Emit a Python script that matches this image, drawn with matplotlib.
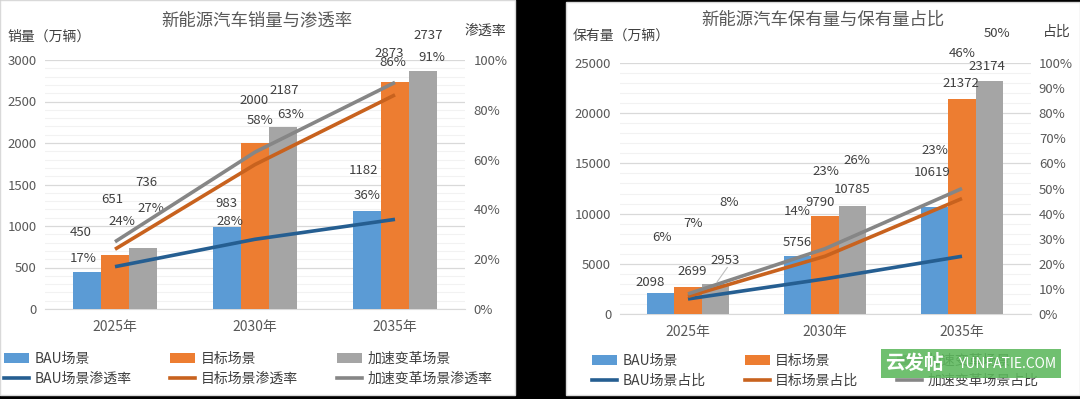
import numpy as np
import matplotlib
matplotlib.use('Agg')
import matplotlib.pyplot as plt
from matplotlib.patches import Rectangle, Patch
from matplotlib.lines import Line2D

plt.rcParams['font.family'] = ['Noto Sans CJK SC', 'DejaVu Sans']

# data
years = ['2025年', '2030年', '2035年']
scenarios = ['BAU场景', '目标场景', '加速变革场景']

sales = [[450, 983, 1182], [651, 2000, 2737], [736, 2187, 2873]]
penetration = [[0.17, 0.28, 0.36], [0.24, 0.58, 0.86], [0.27, 0.63, 0.91]]

stock = [[2098, 5756, 10619], [2699, 9790, 21372], [2953, 10785, 23174]]
stock_share = [[0.06, 0.14, 0.23], [0.07, 0.23, 0.46], [0.08, 0.26, 0.50]]

# label offsets in pixels (dx, dy) as placed in the source picture
sales_off = [[(-6, 39), (-1, 24), (-3, 40)], [(-3, 55), (-1, 42), (33, 46)], [(3, 65), (1, 37), (-34, 17)]]
pen_off = [[(-32, 8), (-25, 18), (-28, 24)], [(7, 28), (5, 44), (-2, 32)], [(36, 33), (36, 38), (37, 25)]]
stock_off = [[(-10, 10), (0, 14), (-2, 35)], [(4, 15), (-5, 13), (-1, 16)], [(10, 24), (0, 16), (-2, 15)]]
share_off = [[(-26, 61), (-28, 67), (-27, 106)], [(5, 73), (1, 85), (0, 145)], [(41, 91), (32, 88), (35, 155)]]

bar_colors = ['#5B9BD5', '#ED7D31', '#A5A5A5']
line_colors = ['#255E91', '#C8621E', '#868686']
TXT = '#404040'
TICK = '#595959'

W, H = 1080, 399


def fx(px):
    return px / W


def fy(py):
    return 1 - py / H


fig = plt.figure(figsize=(W / 100, H / 100), dpi=100, facecolor='black')

# white panels (behind the axes)
fig.patches.append(Rectangle((fx(0), fy(395)), fx(515), 395 / H, transform=fig.transFigure,
                             facecolor='white', edgecolor='#d9d9d9', lw=1, zorder=-5))
fig.patches.append(Rectangle((fx(566), fy(395)), fx(514), 393 / H, transform=fig.transFigure,
                             facecolor='white', edgecolor='#d9d9d9', lw=1, zorder=-5))


def draw_panel(px0, px1, py_top, py_bot, bars, shares, b_off, s_off, ymax, ystep, ystep_minor, rstep):
    ax = fig.add_axes([fx(px0), fy(py_bot), (px1 - px0) / W, (py_bot - py_top) / H])
    ax.set_facecolor('none')
    x = np.arange(len(years))
    for i in range(3):
        ax.bar(x + (i - 1) * 0.2, bars[i], width=0.2, color=bar_colors[i], zorder=3)
    ax.set_xlim(-0.5, 2.5)
    ax.set_ylim(0, ymax)
    ax.set_yticks(np.arange(0, ymax + 1, ystep))
    ax.set_yticks(np.arange(0, ymax + 1, ystep_minor), minor=True)
    ax.grid(which='major', axis='y', color='#d9d9d9', lw=0.9, zorder=0)
    ax.grid(which='minor', axis='y', color='#f2f2f2', lw=0.8, zorder=0)
    ax.set_axisbelow(True)
    ax.set_xticks(x)
    ax.set_xticklabels(years)
    for s in ['top', 'left', 'right']:
        ax.spines[s].set_visible(False)
    ax.spines['bottom'].set_color('#d9d9d9')
    ax.tick_params(axis='both', which='both', length=0, colors=TICK, labelsize=9.5)
    ax.tick_params(axis='y', pad=6)
    ax.tick_params(axis='x', pad=8, labelsize=10)

    ax2 = ax.twinx()
    for i in range(3):
        ax2.plot(x, shares[i], color=line_colors[i], lw=2.6, solid_capstyle='butt', zorder=4)
    ax2.set_ylim(0, 1)
    ax2.set_yticks(np.arange(0, 1.001, rstep))
    ax2.set_yticklabels([f'{int(round(v * 100))}%' for v in np.arange(0, 1.001, rstep)])
    for s in ax2.spines.values():
        s.set_visible(False)
    ax2.tick_params(axis='y', length=0, colors=TICK, labelsize=9.5, pad=6)

    for i in range(3):
        for j in range(3):
            ax.annotate(str(bars[i][j]), xy=(x[j] + (i - 1) * 0.2, bars[i][j]), xytext=b_off[i][j],
                        textcoords='offset pixels', ha='center', va='center', fontsize=9.5, color=TXT,
                        annotation_clip=False)
            ax2.annotate(f'{int(round(shares[i][j] * 100))}%', xy=(x[j], shares[i][j]), xytext=s_off[i][j],
                         textcoords='offset pixels', ha='center', va='center', fontsize=9.5, color=TXT,
                         annotation_clip=False)
    return ax, ax2


def add_legend(px, py, line_suffix):
    handles = []
    labels = []
    for i in range(3):
        handles.append(Patch(facecolor=bar_colors[i], edgecolor='none'))
        labels.append(scenarios[i])
        handles.append(Line2D([], [], color=line_colors[i], lw=2.6))
        labels.append(scenarios[i] + line_suffix)
    fig.legend(handles, labels, loc='center left', bbox_to_anchor=(fx(px), fy(py)), ncol=3,
               frameon=False, fontsize=10, handlelength=1.8, handleheight=0.8, handletextpad=0.4,
               columnspacing=2.8, labelspacing=0.45, borderpad=0, borderaxespad=0,
               labelcolor=TXT)


# left: sales & penetration
draw_panel(45, 465, 60, 309, sales, penetration, sales_off, pen_off, 3000, 500, 100, 0.2)
fig.text(fx(257), fy(20), '新能源汽车销量与渗透率', ha='center', va='center', fontsize=12.5, color=TICK)
fig.text(fx(7), fy(37), '销量（万辆）', ha='left', va='center', fontsize=10, color=TXT)
fig.text(fx(465), fy(31), '渗透率', ha='left', va='center', fontsize=10, color=TXT)
add_legend(4, 369, '渗透率')

# right: stock & share
ax_r, ax_r2 = draw_panel(619.5, 1030.5, 63, 314, stock, stock_share, stock_off, share_off, 25000, 5000, 1000, 0.1)
# short leader line from the 2953 label down to its bar
ax_r.annotate('', xy=(0.2, stock[2][0]), xytext=(12, 17), textcoords='offset pixels',
              arrowprops=dict(arrowstyle='-', color='#bfbfbf', lw=0.8, shrinkA=0, shrinkB=2))
fig.text(fx(823), fy(20), '新能源汽车保有量与保有量占比', ha='center', va='center', fontsize=12.5, color=TICK)
fig.text(fx(573), fy(37), '保有量（万辆）', ha='left', va='center', fontsize=10, color=TXT)
fig.text(fx(1043), fy(32), '占比', ha='left', va='center', fontsize=10, color=TXT)
add_legend(592, 371, '占比')

# watermark box
fig.patches.append(Rectangle((fx(881), fy(378)), 180 / W, 29 / H, transform=fig.transFigure,
                             facecolor='#5cb85c', edgecolor='none', alpha=0.88, zorder=10))
fig.text(fx(885), fy(363.5), '云发帖', ha='left', va='center', fontsize=14, fontweight='bold',
         color='white', zorder=11)
fig.text(fx(958), fy(364), 'YUNFATIE.COM', ha='left', va='center', fontsize=10,
         color='white', zorder=11)

fig.savefig('out.png', dpi=100, facecolor=fig.get_facecolor())
